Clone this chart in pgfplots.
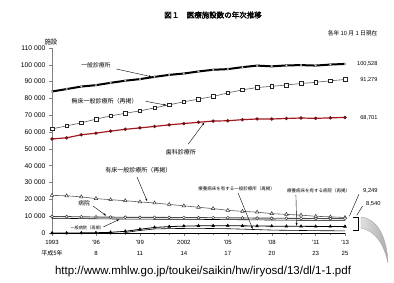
\documentclass[border=0pt]{standalone}
\usepackage{pgfplots}
\pgfplotsset{compat=1.18}
\usepackage{pgfplotstable}
\usepackage{fontspec}
\setmainfont{Liberation Sans}
\newfontfamily\cjk[AutoFakeBold=2.5]{Noto Sans CJK JP}
\usetikzlibrary{arrows.meta}
\definecolor{dental}{RGB}{165,25,35}
\newcommand{\fs}[1]{\fontsize{#1}{#1}\selectfont}

\pgfplotstableread{
year gp nobed dental bed hosp genhosp rhosp rgp
1993 84128 61900 55906 22383 9844 8782 0 nan
1994 85588 63700 56600 22114 9731 8680 0 nan
1995 87069 65500 58407 21500 9606 8560 50 nan
1996 87909 67700 59357 20452 9490 8440 150 nan
1997 89292 69600 60579 19800 9413 8360 400 nan
1998 90556 71200 61651 19200 9333 8280 1000 300
1999 91500 72600 62484 18487 9286 8230 2200 1500
2000 92824 74400 63361 17853 9266 8200 3300 2400
2001 94019 76200 64297 17000 9239 8180 3800 2600
2002 94819 78000 65073 16178 9187 8130 4100 2700
2003 96050 79600 65828 15300 9122 8070 4250 2750
2004 97051 81200 66557 14500 9077 8030 4330 2650
2005 97442 83300 66732 13477 9026 7952 4374 2544
2006 98609 85100 67392 12858 8943 7880 4250 2300
2007 99532 86500 67798 12399 8862 7800 4150 2000
2008 99083 87200 67779 11500 8794 7714 4067 1728
2009 99635 88000 68097 11072 8739 7655 4000 1600
2010 99824 88900 68384 10620 8670 7587 3964 1500
2011 99547 89600 68156 9934 8605 7528 3920 1385
2012 100152 90500 68474 9596 8565 7493 3900 1320
2013 100528 91279 68701 9249 8540 7474 3873 1268
}\data

\begin{document}
\begin{tikzpicture}[x=1pt,y=1pt]
\path[use as bounding box] (0,0) rectangle (394,283);
\begin{axis}[
  at={(52pt,50pt)}, anchor=south west,
  scale only axis, width=293pt, height=185pt,
  xmin=1993, xmax=2013, ymin=0, ymax=110000,
  scaled y ticks=false, scaled x ticks=false,
  axis lines=left,
  x axis line style={-,black,line width=0.6pt},
  y axis line style={-,gray,line width=0.6pt},
  clip=false,
  tick align=outside,
  major tick length=3pt, minor tick length=2pt,
  xtick={1993,1996,1999,2002,2005,2008,2011,2013},
  minor xtick={1994,1995,1997,1998,2000,2001,2003,2004,2006,2007,2009,2010,2012},
  xticklabels={{1993\\{\cjk 平成5年}},{’96\\8},{’99\\11},{2002\\14},{’05\\17},{’08\\20},{’11\\23},{’13\\25}},
  xticklabel style={align=center,font=\fontsize{6}{11}\selectfont,yshift=-1pt},
  ytick={0,10000,...,110000},
  yticklabels={0,10 000,20 000,30 000,40 000,50 000,60 000,70 000,80 000,90 000,100 000,110 000},
  yticklabel style={font=\fs{6.8}},
  tick style={gray,line width=0.5pt},
]
\addplot[black,line width=2pt,mark=diamond*,mark size=1.2pt,mark options={fill=white,draw=gray,line width=0.3pt}] table[x=year,y=gp]{\data};
\addplot[gray!70!black,line width=0.6pt,mark=square*,mark size=1.8pt,mark options={fill=white,draw=gray!30!black,line width=0.5pt}] table[x=year,y=nobed]{\data};
\addplot[dental,line width=1.2pt,mark=*,mark size=1pt,mark options={fill=dental,draw=dental!70!black}] table[x=year,y=dental]{\data};
\addplot[gray!70!black,line width=0.6pt,mark=triangle*,mark size=2pt,mark options={fill=white,draw=gray!40!black,line width=0.5pt}] table[x=year,y=bed]{\data};
\addplot[gray!60!black,line width=0.9pt,mark=*,mark size=1.5pt,mark options={fill=white,draw=gray!40!black,line width=0.5pt}] table[x=year,y=hosp]{\data};
\addplot[black,line width=0.6pt] table[x=year,y=genhosp]{\data};
\addplot[black,line width=0.8pt,mark=triangle*,mark size=1.3pt,mark options={fill=black}] table[x=year,y=rhosp]{\data};
\addplot[black,line width=0.6pt,unbounded coords=discard] table[x=year,y=rgp]{\data};

% annotations
\node[font=\cjk\fs{5.8}] at (axis cs:1996.0,99900) {一般診療所};
\draw[line width=0.4pt,-{Stealth[length=3pt,width=2pt]}] (axis cs:1997.4,97500) -- (axis cs:1999.8,92900);
\node[font=\cjk\fs{6}] at (axis cs:1996.6,78500) {無床一般診療所（再掲）};
\draw[line width=0.4pt,-{Stealth[length=3pt,width=2pt]}] (axis cs:1999.4,78300) -- (axis cs:2000.8,76000);
\node[font=\cjk\fs{6}] at (axis cs:2001.8,48200) {歯科診療所};
\draw[line width=0.4pt,-{Stealth[length=3pt,width=2pt]}] (axis cs:2002.3,52900) -- (axis cs:2003.4,65700);
\node[font=\cjk\fs{6}] at (axis cs:1998.9,37500) {有床一般診療所（再掲）};
\draw[line width=0.4pt,-{Stealth[length=3pt,width=2pt]}] (axis cs:1998.8,33300) -- (axis cs:1999.5,18900);
\node[font=\cjk\fs{5.8}] at (axis cs:1995.2,17800) {病院};
\draw[line width=0.4pt,-{Stealth[length=3pt,width=2pt]}] (axis cs:1995.8,16000) -- (axis cs:1996.7,10300);
\node[font=\cjk\fs{4.2}] at (axis cs:1995.4,3000) {一般病院（再掲）};
\draw[line width=0.4pt,-{Stealth[length=3pt,width=2pt]}] (axis cs:1996.5,3570) -- (axis cs:1997.6,8100);
\node[font=\cjk\fs{4.5}] at (axis cs:2005.6,26200) {療養病床を有する一般診療所（再掲）};
\draw[line width=0.4pt,-{Stealth[length=3pt,width=2pt]}] (axis cs:2005.7,23800) -- (axis cs:2006.7,2400);
\node[font=\cjk\fs{4.5}] at (axis cs:2011.2,25000) {療養病床を有する病院（再掲）};
\draw[line width=0.4pt,-{Stealth[length=3pt,width=2pt]}] (axis cs:2009.65,22600) -- (axis cs:2009.7,4300);

% value labels
\node[font=\fs{5.6},anchor=east] at ([xshift=36pt]axis cs:2013,100528) {100,528};
\node[font=\fs{5.6},anchor=east] at ([xshift=36pt]axis cs:2013,91279) {91,279};
\node[font=\fs{5.6},anchor=east] at ([xshift=36pt]axis cs:2013,68701) {68,701};
\node[font=\fs{5.8},anchor=west] at (axis cs:2014.0,25000) {9,249};
\draw[line width=0.4pt] (axis cs:2013.95,23000) -- (axis cs:2013.3,10000);
\node[font=\fs{5.8},anchor=west] at (axis cs:2014.2,17300) {8,540};
\draw[line width=0.4pt] (axis cs:2014.2,16000) -- (axis cs:2013.8,10500);
% bracket
\draw[line width=0.6pt] (axis cs:2013.55,9510) -- (axis cs:2013.89,9510) -- (axis cs:2013.89,1780) -- (axis cs:2013.55,1780);
\end{axis}

% curved callout arrow
\path[draw=gray!70,line width=0.4pt,left color=gray!25,right color=gray!65]
  (361,66) .. controls (378,64) and (387,45) .. (388,20)
  .. controls (384,38) and (376,52) .. (361,55) -- cycle;

% titles
\node[font=\cjk\bfseries\fs{7.5}] at (213,268) {図１　医療施設数の年次推移};
\node[font=\cjk\fs{5.8},anchor=east] at (381,250) {各年 10 月 1 日現在};
\node[font=\cjk\fs{6.5}] at (51,241) {施設};
\node[font=\fs{11.5}] at (203,11) {http://www.mhlw.go.jp/toukei/saikin/hw/iryosd/13/dl/1-1.pdf};
\end{tikzpicture}
\end{document}
